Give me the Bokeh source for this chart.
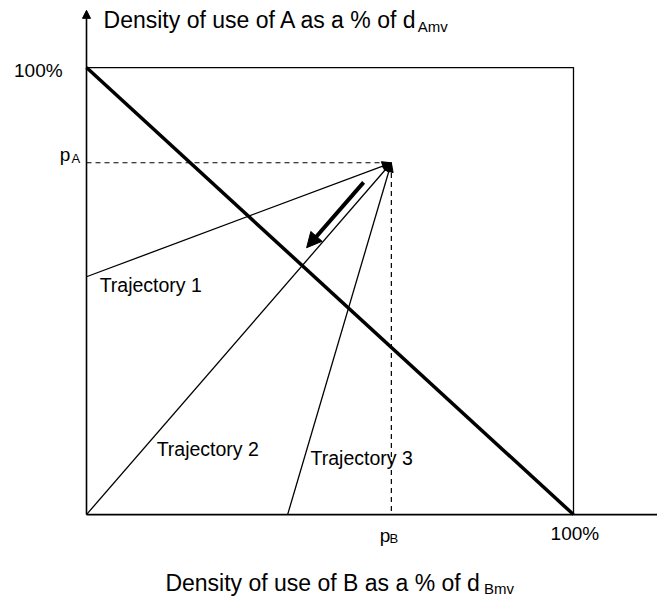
from bokeh.plotting import figure
from bokeh.models import Range1d, Arrow, NormalHead
from bokeh.core.properties import value
from bokeh.embed import file_html
from bokeh.resources import INLINE

# ---- data (percent of the maximum densities) ----
square_max = 100.0
p_b = 62.6          # density of use of B at the current point
p_a = 78.7          # density of use of A at the current point
traj_names = ["Trajectory 1", "Trajectory 2", "Trajectory 3"]
traj_start_x = [0.0, 0.0, 41.3]
traj_start_y = [53.2, 0.0, 0.0]
flow_start = [56.9, 74.3]
flow_end = [45.2, 59.7]
tick_labels = ["100%", "100%"]

FONT = value("Liberation Sans")
DY = 1.6  # text baseline correction (data units)

p = figure(width=657, height=597, output_backend="svg", toolbar_location=None,
           x_range=Range1d(-17.66, 117.25), y_range=Range1d(-18.55, 115.0),
           min_border=0)
p.axis.visible = False
p.grid.visible = False
p.outline_line_color = None
p.background_fill_color = "white"
p.border_fill_color = "white"

# axes
p.segment(x0=[0], y0=[0], x1=[117.5], y1=[0], line_color="black", line_width=1.6)
p.add_layout(Arrow(end=NormalHead(size=8, fill_color="black", line_color="black"),
                   x_start=0, y_start=0, x_end=0, y_end=112.8,
                   line_color="black", line_width=1.6))

# square
p.line(x=[0, square_max, square_max], y=[square_max, square_max, 0],
       line_color="black", line_width=1.3)

# thick diagonal
p.line(x=[0, square_max], y=[square_max, 0], line_color="black", line_width=3.5)

# dashed guides
p.line(x=[0, p_b, p_b], y=[p_a, p_a, 0], line_color="black", line_width=1.2,
       line_dash="5 4")

# trajectories
for sx, sy in zip(traj_start_x, traj_start_y):
    p.add_layout(Arrow(end=NormalHead(size=9, fill_color="black", line_color="black"),
                       x_start=sx, y_start=sy, x_end=p_b, y_end=p_a,
                       line_color="black", line_width=1.3))

# flow arrow
p.add_layout(Arrow(end=NormalHead(size=15, fill_color="black", line_color="black"),
                   x_start=flow_start[0], y_start=flow_start[1],
                   x_end=flow_end[0], y_end=flow_end[1],
                   line_color="black", line_width=4))

def txt(x, y, s, size, align="left"):
    p.text(x=[x], y=[y + DY], text=[s], text_font=FONT, text_font_size=size,
           text_color="black", text_align=align, text_baseline="alphabetic")

# tick labels
txt(-4.9, 97.8, tick_labels[0], "19px", "right")
txt(95.3, -5.8, tick_labels[1], "19px")

# p_A, p_B
txt(-5.5, 79.0, "p", "19px")
txt(-3.1, 78.1, "A", "13px")
txt(60.2, -6.3, "p", "19px")
txt(62.2, -7.0, "B", "13px")

# trajectory labels
txt(2.7, 49.7, traj_names[0], "19.5px")
txt(14.4, 13.0, traj_names[1], "19.5px")
txt(46.0, 11.0, traj_names[2], "19.5px")

# axis titles
txt(3.5, 109.0, "Density of use of A as a % of d", "23px")
txt(68.0, 107.6, "Amv", "15px")
txt(16.2, -16.8, "Density of use of B as a % of d", "23px")
txt(81.6, -18.1, "Bmv", "15px")

open("out.html", "w").write(file_html(p, INLINE))
